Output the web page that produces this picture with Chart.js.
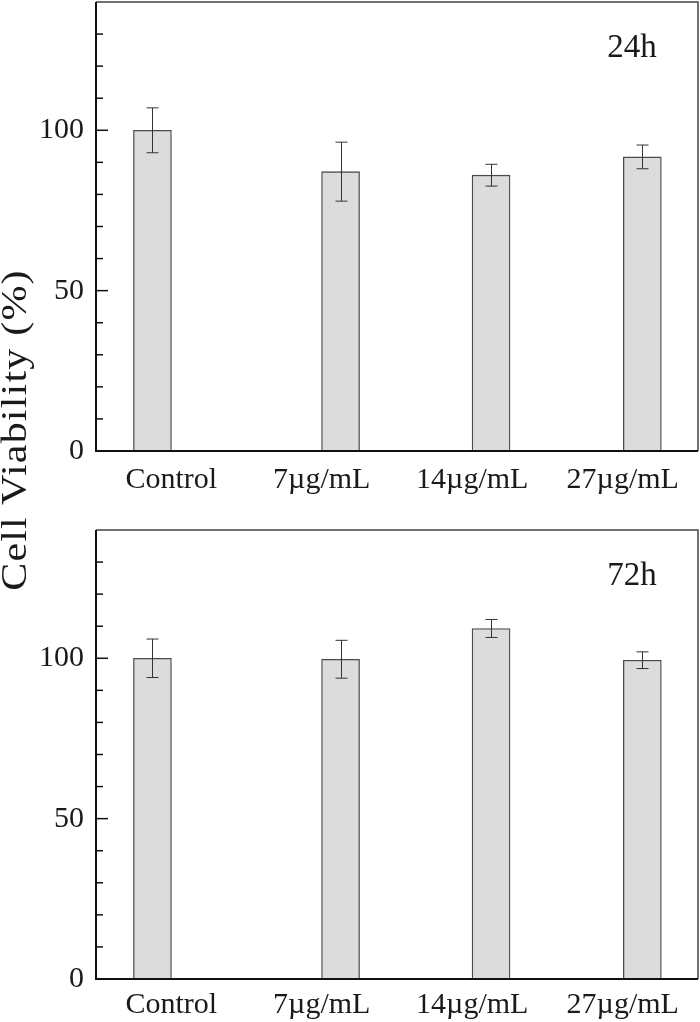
<!DOCTYPE html>
<html>
<head>
<meta charset="utf-8">
<script src="https://cdn.jsdelivr.net/npm/chart.js@4.4.1/dist/chart.umd.min.js"></script>
<style>
  html, body { margin: 0; padding: 0; background: #fff; }
  #wrap { position: relative; width: 700px; height: 1022px; overflow: hidden; }
  .panel { position: absolute; left: 0; width: 700px; height: 511px; }
  #yTitle {
    position: absolute; left: -185px; top: 405px; width: 400px; height: 50px;
    line-height: 50px; text-align: center; white-space: nowrap; letter-spacing: 1px;
    transform: rotate(-90deg) scaleX(1.2); transform-origin: 50% 50%;
    font-family: "Liberation Serif", "DejaVu Serif", serif; font-size: 35px; color: #1a1a1a;
  }
</style>
</head>
<body>
<div id="wrap">
  <div class="panel" style="top:0"><canvas id="chart24"></canvas></div>
  <div class="panel" style="top:511px"><canvas id="chart72"></canvas></div>
  <div id="yTitle">Cell Viability (%)</div>
</div>
<script>
/* ===============================
   DATA
================================ */
const categories = ["Control", "7µg/mL", "14µg/mL", "27µg/mL"];
const labelPos = [1, 2, 3, 4];
const barPos = [0.875, 2.125, 3.125, 4.13];

const viability24h = [100, 87.1, 86.0, 91.7];
const error24h = [7.0, 9.2, 3.4, 3.7];

const viability72h = [100, 99.7, 109.3, 99.4];
const error72h = [6.0, 5.9, 2.8, 2.6];

const yMajorTicks = [0, 50, 100];
const yMinorTicks = [10, 20, 30, 40, 60, 70, 80, 90, 110, 120, 130];

const FONT = "'Liberation Serif', 'DejaVu Serif', serif";

/* ===============================
   PLUGINS
================================ */
const errorBarPlugin = {
    id: "errorBars",
    afterDatasetsDraw(chart, args, opts) {
        const { ctx, scales: { x, y } } = chart;
        const vals = chart.data.datasets[0].data;
        ctx.save();
        ctx.strokeStyle = "#333";
        ctx.lineWidth = 1;
        vals.forEach((p, i) => {
            const err = opts.errors[i];
            const px = Math.round(x.getPixelForValue(p.x)) + 0.5;
            const yTop = y.getPixelForValue(p.y + err);
            const yBot = y.getPixelForValue(p.y - err);
            ctx.beginPath();
            ctx.moveTo(px, yTop); ctx.lineTo(px, yBot);
            ctx.moveTo(px - 6, yTop); ctx.lineTo(px + 6, yTop);
            ctx.moveTo(px - 6, yBot); ctx.lineTo(px + 6, yBot);
            ctx.stroke();
        });
        ctx.restore();
    }
};

const framePlugin = {
    id: "frame",
    afterDraw(chart, args, opts) {
        const { ctx, chartArea: a, scales: { y } } = chart;
        ctx.save();
        // top + right, thinner grey
        ctx.strokeStyle = "#444";
        ctx.lineWidth = 1.5;
        ctx.beginPath();
        ctx.moveTo(a.left, a.top); ctx.lineTo(a.right, a.top); ctx.lineTo(a.right, a.bottom);
        ctx.stroke();
        // left + bottom, black
        ctx.strokeStyle = "#111";
        ctx.lineWidth = 2;
        ctx.beginPath();
        ctx.moveTo(a.left, a.top); ctx.lineTo(a.left, a.bottom); ctx.lineTo(a.right, a.bottom);
        ctx.stroke();
        // inward ticks
        ctx.lineWidth = 1.5;
        yMajorTicks.forEach(v => {
            const py = y.getPixelForValue(v);
            ctx.beginPath(); ctx.moveTo(a.left, py); ctx.lineTo(a.left + 12, py); ctx.stroke();
        });
        yMinorTicks.forEach(v => {
            const py = y.getPixelForValue(v);
            ctx.beginPath(); ctx.moveTo(a.left, py); ctx.lineTo(a.left + 7, py); ctx.stroke();
        });
        // panel label
        ctx.fillStyle = "#1a1a1a";
        ctx.font = "33px " + FONT;
        ctx.textAlign = "center";
        ctx.textBaseline = "alphabetic";
        ctx.fillText(opts.label, a.right - 66, a.top + 55);
        ctx.restore();
    }
};

/* ===============================
   CHART
================================ */
function makePanel(canvasId, values, errors, label, padTop, xAxisHeight, labelPad) {
    const ctx = document.getElementById(canvasId).getContext("2d");
    return new Chart(ctx, {
        type: "bar",
        data: {
            datasets: [{
                data: barPos.map((p, i) => ({ x: p, y: values[i] })),
                backgroundColor: "#dcdcdc",
                borderColor: "#4a4a4a",
                borderWidth: 1.3,
                barThickness: 38
            }]
        },
        options: {
            responsive: true,
            maintainAspectRatio: false,
            animation: false,
            layout: { padding: { top: padTop, right: 2, left: 0, bottom: 0 } },
            plugins: {
                legend: { display: false },
                tooltip: { enabled: false },
                errorBars: { errors: errors },
                frame: { label: label }
            },
            scales: {
                x: {
                    type: "linear",
                    min: 0.5,
                    max: 4.5,
                    offset: false,
                    grid: { display: false, offset: false, drawTicks: false },
                    border: { display: false },
                    afterBuildTicks: s => { s.ticks = labelPos.map(v => ({ value: v })); },
                    afterFit: s => {
                        s.height = xAxisHeight;
                        s.paddingLeft = 0; s.paddingRight = 0;
                    },
                    ticks: {
                        autoSkip: false,
                        maxRotation: 0,
                        padding: labelPad,
                        color: "#1a1a1a",
                        font: { family: FONT, size: 30 },
                        callback: v => categories[labelPos.indexOf(v)]
                    }
                },
                y: {
                    min: 0,
                    max: 140,
                    grid: { display: false, drawTicks: false },
                    border: { display: false },
                    afterBuildTicks: s => { s.ticks = yMajorTicks.map(v => ({ value: v })); },
                    afterFit: s => {
                        s.width = 96;
                        s.paddingTop = 0; s.paddingBottom = 0;
                    },
                    ticks: {
                        padding: 12,
                        color: "#1a1a1a",
                        font: { family: FONT, size: 30 }
                    }
                }
            }
        },
        plugins: [errorBarPlugin, framePlugin]
    });
}

document.addEventListener("DOMContentLoaded", () => {
    makePanel("chart24", viability24h, error24h, "24h", 2, 60, 11);
    makePanel("chart72", viability72h, error72h, "72h", 19, 43, 8);
});
</script>
</body>
</html>
